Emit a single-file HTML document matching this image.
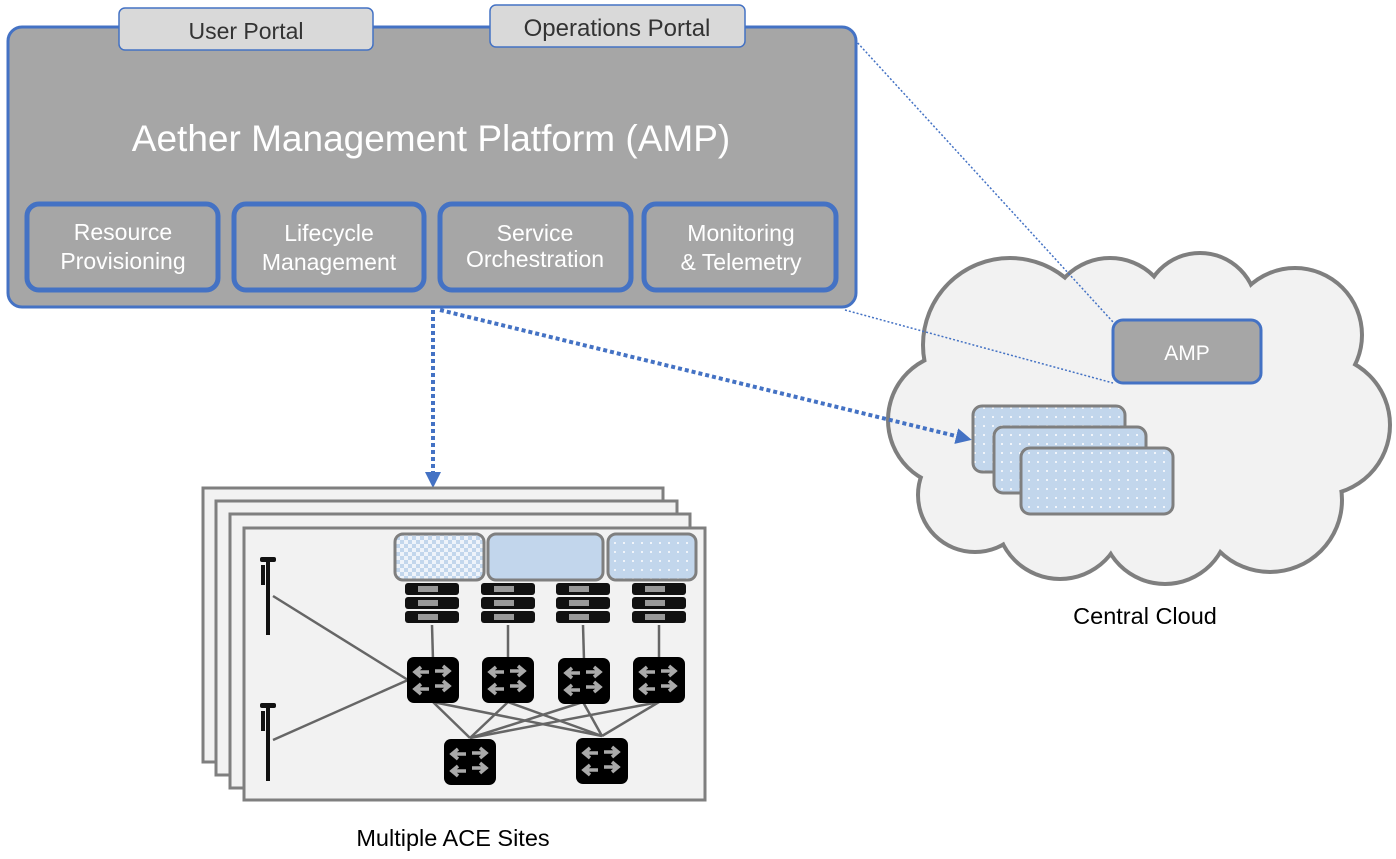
<!DOCTYPE html>
<html><head><meta charset="utf-8"><style>
body{margin:0;background:#fff;width:1396px;height:854px;overflow:hidden;font-family:"Liberation Sans","DejaVu Sans",sans-serif}
</style></head><body>
<svg width="1396" height="854" viewBox="0 0 1396 854" xmlns="http://www.w3.org/2000/svg" font-family="Liberation Sans, DejaVu Sans, sans-serif">
<defs>
<pattern id="dots" width="9" height="9" patternUnits="userSpaceOnUse"><rect width="9" height="9" fill="#c2d6ec"/><circle cx="3" cy="3" r="1" fill="#fff"/></pattern>
<pattern id="chk" width="8" height="8" patternUnits="userSpaceOnUse"><rect width="8" height="8" fill="#c2d6ec"/><rect width="4" height="4" fill="#eef3fa"/><rect x="4" y="4" width="4" height="4" fill="#eef3fa"/></pattern>
<marker id="ar" markerWidth="4" markerHeight="4" refX="2" refY="2" orient="auto"><path d="M0,0 L4,2 L0,4z" fill="#4472c4"/></marker>
<g id="srv"><rect x="-27" y="0" width="54" height="12" rx="3" fill="#111"/><rect x="-27" y="14" width="54" height="12" rx="3" fill="#111"/><rect x="-27" y="28" width="54" height="12" rx="3" fill="#111"/><rect x="-14" y="3" width="20" height="6" fill="#999"/><rect x="-14" y="17" width="20" height="6" fill="#999"/><rect x="-14" y="31" width="20" height="6" fill="#999"/></g>
<g id="sw"><rect x="-26" y="-23" width="52" height="46" rx="7" fill="#000"/><path d="M-4,-8 h-14 M-12,-13 l-6,5 6,5 M2,-9 h14 M10,-14 l6,5 -6,5 M-4,9 h-14 M-12,4 l-6,5 6,5 M2,6 h14 M10,1 l6,5 -6,5" stroke="#aaa" stroke-width="3.5" fill="none"/></g>
<g id="ant"><rect x="-2" y="0" width="4" height="78" fill="#111"/><rect x="-8" y="0" width="16" height="5" rx="2" fill="#111"/><rect x="-7" y="8" width="4" height="20" fill="#111"/></g>
</defs>

<g fill="none" stroke="#7f7f7f" stroke-width="8">
<circle cx="1010" cy="345" r="85"/><circle cx="1110" cy="320" r="60"/><circle cx="1200" cy="310" r="55"/><circle cx="1295" cy="335" r="65"/><circle cx="1320" cy="425" r="68"/><circle cx="1270" cy="500" r="70"/><circle cx="1165" cy="520" r="62"/><circle cx="1060" cy="515" r="62"/><circle cx="975" cy="495" r="55"/><circle cx="955" cy="420" r="65"/>
</g>
<g fill="#f2f2f2">
<circle cx="1010" cy="345" r="85"/><circle cx="1110" cy="320" r="60"/><circle cx="1200" cy="310" r="55"/><circle cx="1295" cy="335" r="65"/><circle cx="1320" cy="425" r="68"/><circle cx="1270" cy="500" r="70"/><circle cx="1165" cy="520" r="62"/><circle cx="1060" cy="515" r="62"/><circle cx="975" cy="495" r="55"/><circle cx="955" cy="420" r="65"/>
<rect x="990" y="330" width="310" height="200"/>
</g>
<rect x="1113" y="320" width="148" height="63" rx="10" fill="#a6a6a6" stroke="#4472c4" stroke-width="3"/>
<text x="1187" y="360" fill="#fff" font-size="21" text-anchor="middle">AMP</text>
<rect x="973" y="406" width="152" height="66" rx="9" fill="url(#dots)" stroke="#7f7f7f" stroke-width="3"/>
<rect x="994" y="427" width="152" height="66" rx="9" fill="url(#dots)" stroke="#7f7f7f" stroke-width="3"/>
<rect x="1021" y="448" width="152" height="66" rx="9" fill="url(#dots)" stroke="#7f7f7f" stroke-width="3"/>
<text x="1145" y="624" font-size="23.5" text-anchor="middle" fill="#000">Central Cloud</text>

<line x1="855" y1="40" x2="1113" y2="322" stroke="#4472c4" stroke-width="1.5" stroke-dasharray="2,2"/>
<line x1="845" y1="310" x2="1113" y2="383" stroke="#4472c4" stroke-width="1.5" stroke-dasharray="2,2"/>

<rect x="8" y="27" width="848" height="280" rx="14" fill="#a6a6a6" stroke="#4472c4" stroke-width="3"/>
<rect x="119" y="8" width="254" height="42" rx="6" fill="#d9d9d9" stroke="#4472c4" stroke-width="1.5"/>
<text x="246" y="39" font-size="23" text-anchor="middle" fill="#333">User Portal</text>
<rect x="490" y="5" width="255" height="42" rx="6" fill="#d9d9d9" stroke="#4472c4" stroke-width="1.5"/>
<text x="617" y="36" font-size="24" text-anchor="middle" fill="#333">Operations Portal</text>
<text x="431" y="151" font-size="37" text-anchor="middle" fill="#fff">Aether Management Platform (AMP)</text>
<g fill="#a6a6a6" stroke="#4472c4" stroke-width="5">
<rect x="27" y="204" width="191" height="86" rx="12"/><rect x="234" y="204" width="190" height="86" rx="12"/><rect x="440" y="204" width="191" height="86" rx="12"/><rect x="644" y="204" width="192" height="86" rx="12"/>
</g>
<g fill="#fff" font-size="23" text-anchor="middle">
<text x="123" y="240">Resource</text><text x="123" y="269">Provisioning</text>
<text x="329" y="241">Lifecycle</text><text x="329" y="270">Management</text>
<text x="535" y="241">Service</text><text x="535" y="267">Orchestration</text>
<text x="741" y="241">Monitoring</text><text x="741" y="270">&amp; Telemetry</text>
</g>

<line x1="433" y1="310" x2="433" y2="480" stroke="#4472c4" stroke-width="4" stroke-dasharray="4,3" marker-end="url(#ar)"/>
<line x1="440" y1="310" x2="964" y2="438" stroke="#4472c4" stroke-width="4" stroke-dasharray="4,3" marker-end="url(#ar)"/>

<g fill="#f2f2f2" stroke="#7f7f7f" stroke-width="3">
<rect x="203" y="488" width="460" height="274"/><rect x="216" y="501" width="461" height="274"/><rect x="230" y="514" width="460" height="274"/><rect x="244" y="528" width="461" height="272"/>
</g>
<g stroke="#666" stroke-width="2.5">
<line x1="273" y1="596" x2="408" y2="680"/><line x1="273" y1="740" x2="408" y2="680"/>
<line x1="432" y1="625" x2="433" y2="660"/><line x1="508" y1="625" x2="508" y2="660"/><line x1="583" y1="625" x2="584" y2="660"/><line x1="659" y1="625" x2="659" y2="660"/>
<line x1="433" y1="702" x2="470" y2="738"/><line x1="433" y1="702" x2="602" y2="736"/>
<line x1="508" y1="702" x2="470" y2="738"/><line x1="508" y1="702" x2="602" y2="736"/>
<line x1="583" y1="702" x2="470" y2="738"/><line x1="583" y1="702" x2="602" y2="736"/>
<line x1="659" y1="702" x2="470" y2="738"/><line x1="659" y1="702" x2="602" y2="736"/>
</g>
<use href="#srv" x="432" y="583"/><use href="#srv" x="508" y="583"/><use href="#srv" x="583" y="583"/><use href="#srv" x="659" y="583"/>
<rect x="395" y="534" width="89" height="46" rx="8" fill="url(#chk)" stroke="#7f7f7f" stroke-width="3"/>
<rect x="488" y="534" width="115" height="46" rx="8" fill="#c2d6ec" stroke="#7f7f7f" stroke-width="3"/>
<rect x="608" y="534" width="88" height="46" rx="8" fill="url(#dots)" stroke="#7f7f7f" stroke-width="3"/>
<use href="#sw" x="433" y="680"/><use href="#sw" x="508" y="680"/><use href="#sw" x="584" y="681"/><use href="#sw" x="659" y="680"/>
<use href="#sw" x="470" y="762"/><use href="#sw" x="602" y="761"/>
<use href="#ant" x="268" y="557"/><use href="#ant" x="268" y="703"/>
<text x="453" y="846" font-size="23.5" text-anchor="middle" fill="#000">Multiple ACE Sites</text>
</svg>
</body></html>
